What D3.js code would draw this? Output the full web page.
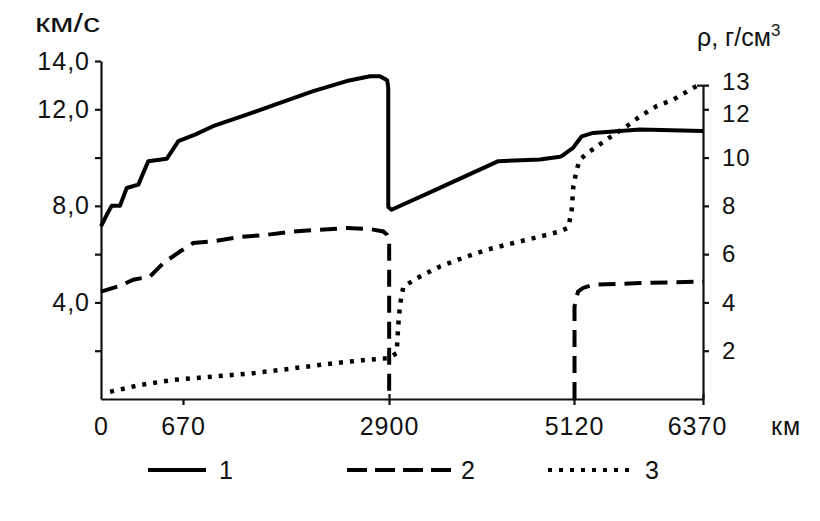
<!DOCTYPE html>
<html><head><meta charset="utf-8">
<script src="https://cdn.jsdelivr.net/npm/d3@7"></script>
<style>
html,body{margin:0;padding:0;background:#fff;}
svg text{font-family:"Liberation Sans",Arial,sans-serif;fill:#111;}
</style></head>
<body><svg id="c" width="820" height="521"></svg>
<script>
// depth ticks (km)
const depthTicks = [0, 670, 2900, 5120, 6370];
const leftTicks = [2, 4, 6, 8, 10, 12, 14];
const leftLabeled = [4, 8, 12, 14];
const rightTicks = [2, 4, 6, 8, 10, 12, 13];

// series 1: P-wave velocity, km/s
const vpDepth = [0,47,87,155,210,305,386,537,632,800,995,1360,1720,2080,2442,2694,2802,2880,2892,2892,2930,3392,4212,4712,4952,4988,5108,5195,5304,5760,6370];
const vp      = [7.15,7.63,8.0,8.0,8.74,8.88,9.85,9.95,10.68,10.95,11.3,11.78,12.27,12.75,13.17,13.37,13.37,13.2,12.9,7.95,7.84,8.56,9.85,9.92,10.03,10.1,10.4,10.88,11.02,11.16,11.1];

// series 2: S-wave velocity, km/s (null = absent in outer core)
const vsDepth = [0,155,264,400,509,646,781,998,1287,1576,1864,2153,2442,2694,2838,2880,2902,2902,4000,5125,5125,5159,5207,5304,5760,6370];
const vs      = [4.45,4.69,4.94,5.07,5.63,6.11,6.46,6.53,6.71,6.8,6.94,7.01,7.08,7.04,6.94,6.8,6.5,0,null,0,3.83,4.45,4.6,4.73,4.8,4.87];

// series 3: density, g/cm3
const rhoDepth = [74,319,591,998,1431,1864,2297,2659,2892,2992,3010,3032,3072,3272,3512,3832,4072,4392,4712,4952,5052,5093,5112,5146,5178,5275,5437,5631,5760,5921,6082,6276,6340];
const rho      = [0.30,0.58,0.79,0.93,1.07,1.27,1.48,1.62,1.69,1.9,3.0,3.9,4.66,5.07,5.49,5.9,6.18,6.46,6.73,6.94,7.1,7.84,8.81,9.5,9.92,10.26,10.75,11.3,11.71,12.13,12.4,12.89,13.03];

const legendLabels = ["1", "2", "3"];

const svg = d3.select("#c");
const x = d3.scaleLinear().domain(depthTicks).range([101, 183, 389, 574, 703]);
const y = d3.scaleLinear().domain([0, 14]).range([399, 61]);
const yR = d3.scaleLinear().domain([0, 13]).range([y(0), y(13)]);

const FS = "25px";

// left axis
const gL = svg.append("g").attr("transform", "translate(101,0)")
  .call(d3.axisLeft(y).tickValues(leftTicks).tickSize(6).tickSizeOuter(0).tickPadding(5)
    .tickFormat(d => leftLabeled.includes(d) ? d.toFixed(1).replace(".", ",") : ""));
// right axis
const gR = svg.append("g").attr("transform", "translate(703,0)")
  .call(d3.axisRight(yR).tickValues(rightTicks).tickSize(6).tickSizeOuter(0).tickPadding(13)
    .tickFormat(d3.format("d")));
gR.selectAll(".tick").filter(d => d === 13).select("line").attr("x1", -6);
gR.selectAll(".tick").filter(d => d === 13).select("text").attr("dy", "0.2em");
gR.selectAll(".tick").filter(d => d === 12).select("text").attr("dy", "0.5em");
// bottom axis
const gB = svg.append("g").attr("transform", "translate(0,399)")
  .call(d3.axisBottom(x).tickValues(depthTicks).tickSize(6).tickSizeOuter(0).tickFormat(d3.format("d")));
gB.selectAll(".tick").filter(d => d >= 2900).select("line").attr("y1", -5);
gB.selectAll(".tick").filter(d => d === 0).select("line").remove();
gB.selectAll(".tick text").attr("y", 36).attr("dy", 0);
gB.selectAll(".tick").filter(d => d === 6370).select("text").attr("dx", -6);

[gL, gR, gB].forEach(g => {
  g.selectAll("path.domain").attr("stroke", "#111").attr("stroke-width", 2.2);
  g.selectAll(".tick line").attr("stroke", "#111").attr("stroke-width", 2.2);
  g.selectAll(".tick text").attr("font-size", FS).attr("fill", "#111")
    .attr("letter-spacing", "1px").style("font-family", '"Liberation Sans",Arial,sans-serif');
});
gR.selectAll(".tick text").attr("font-size", "24px");

// unit labels
svg.append("text").attr("x", 35).attr("y", 32).attr("font-size", "26px")
  .attr("textLength", 65).attr("lengthAdjust", "spacingAndGlyphs").text("км/с");
const rl = svg.append("text").attr("x", 697).attr("y", 46).attr("font-size", "25px");
rl.append("tspan").text("ρ, г/см");
rl.append("tspan").attr("font-size", "17px").attr("dy", -10).text("3");
svg.append("text").attr("x", 771).attr("y", 435).attr("font-size", FS).attr("letter-spacing", "1px").text("км");

// lines
const mk = (ds, vals) => ds.map((d, i) => ({d, v: vals[i]}));
const line = d3.line().defined(p => p.v != null).x(p => x(p.d)).y(p => y(p.v));
const lineR = d3.line().x(p => x(p.d)).y(p => yR(p.v));

svg.append("path").datum(mk(vpDepth, vp)).attr("d", line)
  .attr("fill", "none").attr("stroke", "#000").attr("stroke-width", 4).attr("stroke-linejoin", "round");
svg.append("path").datum(mk(vsDepth, vs)).attr("d", line)
  .attr("fill", "none").attr("stroke", "#000").attr("stroke-width", 4).attr("stroke-dasharray", "17 9");
svg.append("path").datum(mk(rhoDepth, rho)).attr("d", lineR)
  .attr("fill", "none").attr("stroke", "#000").attr("stroke-width", 4.5).attr("stroke-dasharray", "4 7");

// legend
const leg = [
  {x1: 148, x2: 206, dash: null, tx: 219},
  {x1: 347, x2: 451, dash: "20 8", tx: 461},
  {x1: 548, x2: 634, dash: "4 7", tx: 645}
];
leg.forEach((l, i) => {
  svg.append("line").attr("x1", l.x1).attr("x2", l.x2).attr("y1", 470).attr("y2", 470)
    .attr("stroke", "#000").attr("stroke-width", 4).attr("stroke-dasharray", l.dash);
  svg.append("text").attr("x", l.tx).attr("y", 479).attr("font-size", FS).text(legendLabels[i]);
});
</script></body></html>
